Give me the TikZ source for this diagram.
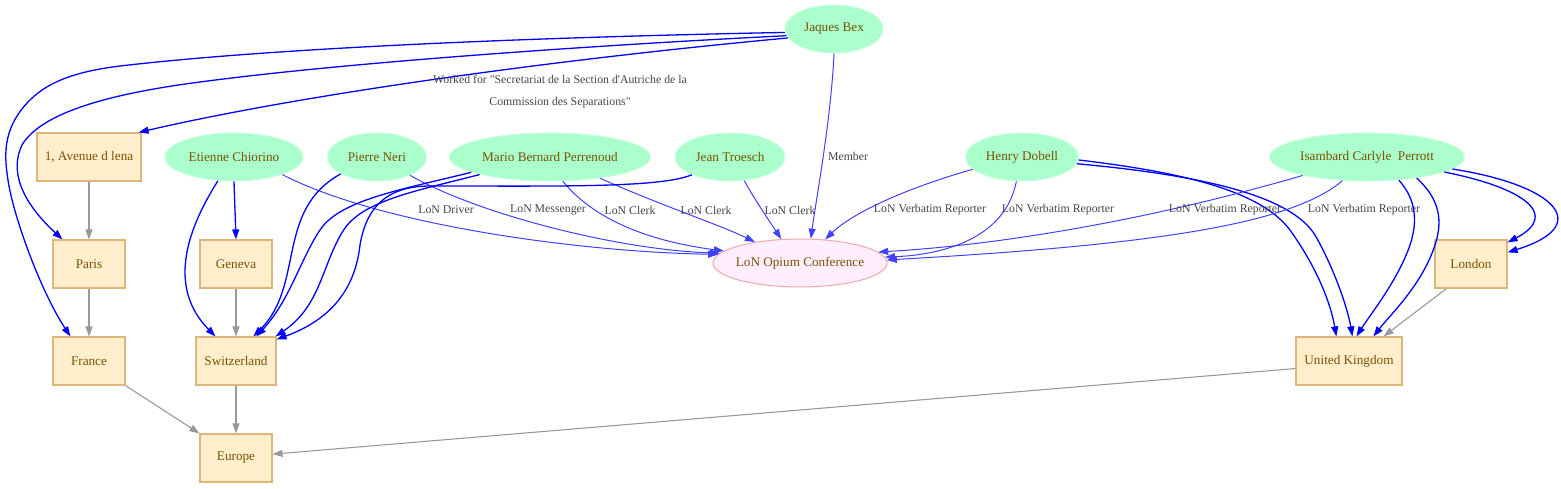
\documentclass[tikz,border=0pt]{standalone}
\usepackage{fontspec}
\setmainfont{Liberation Serif}
\usetikzlibrary{arrows.meta,shapes.geometric}
\definecolor{persfill}{HTML}{AAFFCC}
\definecolor{persline}{HTML}{C8FFDC}
\definecolor{plcfill}{HTML}{FFEECC}
\definecolor{plcline}{HTML}{E0B57A}
\definecolor{evtfill}{HTML}{FFEEFF}
\definecolor{evtline}{HTML}{EEA8A8}
\definecolor{ntext}{HTML}{7A5200}
\definecolor{ltext}{HTML}{444444}
\definecolor{strongblue}{HTML}{0000FF}
\definecolor{weakblue}{HTML}{4040FF}
\definecolor{geogray}{HTML}{999999}
\tikzset{
  pers/.style={ellipse,fill=persfill,draw=persline,line width=1pt,inner sep=0pt,minimum height=48pt,text=ntext,font=\fontsize{13.2}{15}\selectfont},
  plc/.style={rectangle,fill=plcfill,draw=plcline,line width=1.2pt,inner sep=0pt,minimum height=48pt,text=ntext,font=\fontsize{13.2}{15}\selectfont},
  evt/.style={ellipse,fill=evtfill,draw=evtline,line width=1pt,inner ysep=0pt,inner xsep=-14pt,minimum height=48pt,minimum width=174pt,text=ntext,font=\fontsize{13.2}{15}\selectfont},
  strongedge/.style={draw=strongblue,line width=1.3pt,-{Triangle[length=10pt,width=7pt]}},
  weakedge/.style={draw=weakblue,line width=1pt,-{Triangle[length=10pt,width=7pt]}},
  geoedge/.style={draw=geogray,line width=1.1pt,-{Triangle[length=10pt,width=7pt]}},
  lab/.style={text=ltext,inner sep=1pt,font=\fontsize{11.8}{14}\selectfont},
}
\begin{document}
\begin{tikzpicture}[x=1pt,y=-1pt]
\useasboundingbox (0,0) rectangle (1561,488);
% persons
\node[pers,minimum width=98pt] (jb) at (834,29) {Jaques Bex};
\node[pers,minimum width=138pt] (et) at (234,157) {Etienne Chiorino};
\node[pers,minimum width=99pt] (pn) at (377,157) {Pierre Neri};
\node[pers,minimum width=201pt] (mb) at (550,157) {Mario Bernard Perrenoud};
\node[pers,minimum width=110pt] (jt) at (730,157) {Jean Troesch};
\node[pers,minimum width=113pt] (hd) at (1022,157) {Henry Dobell};
\node[pers,minimum width=195pt] (ip) at (1367,157) {Isambard Carlyle\ \ Perrott};
% event
\node[evt] (op) at (800,263) {LoN Opium Conference};
% places
\node[plc,minimum width=104pt] (av) at (89,157) {1, Avenue d lena};
\node[plc,minimum width=72pt] (pa) at (89,264) {Paris};
\node[plc,minimum width=72pt] (ge) at (236,264) {Geneva};
\node[plc,minimum width=72pt] (lo) at (1471,264) {London};
\node[plc,minimum width=72pt] (fr) at (89,361) {France};
\node[plc,minimum width=80pt] (sw) at (236,361) {Switzerland};
\node[plc,minimum width=106pt] (uk) at (1349,361) {United Kingdom};
\node[plc,minimum width=72pt] (eu) at (236,458) {Europe};
% geography
\draw[geoedge] (av.south) -- (pa.north);
\draw[geoedge] (pa.south) -- (fr.north);
\draw[geoedge] (fr.south east) -- (eu.north west);
\draw[geoedge] (ge.south) -- (sw.north);
\draw[geoedge] (sw.south) -- (eu.north);
\draw[geoedge] (uk.188) -- (eu.6);
\draw[geoedge] ([xshift=12pt]lo.south west) -- ([xshift=-19pt]uk.north east);
% Jaques Bex
\draw[strongedge] (jb.184) .. controls (600,36) and (300,45) .. (120,66)
  .. controls (80,71) and (50,80) .. (30,100)
  .. controls (5,125) and (3,150) .. (8,180)
  .. controls (13,215) and (40,290) .. ([xshift=18pt]fr.north west);
\draw[strongedge] (jb.188) .. controls (600,45) and (350,62) .. (200,82)
  .. controls (100,95) and (40,115) .. (22,145)
  .. controls (10,170) and (20,200) .. ([xshift=10pt]pa.north west);
\draw[strongedge] (jb.191) .. controls (550,60) and (300,95) .. ([xshift=-3pt]av.north east);
\node[lab,align=center,font=\fontsize{11.8}{22}\selectfont] (lwork) at (560,92) {Worked for \textquotedbl Secretariat de la Section d\textquotesingle Autriche de la\\Commission des Separations\textquotedbl};
\draw[weakedge] (jb.south) .. controls (831,120) and (816,200) .. (op.66);
\node[lab] (lmember) at (848,156) {Member};
% Etienne
\draw[strongedge] (et.south) -- (ge.north);
\draw[strongedge] (et.236) .. controls (190,225) and (165,285) .. ([xshift=20pt]sw.north west);
\draw[weakedge] (et.-20) .. controls (380,225) and (580,252) .. (op.174);
\node[lab] (ldriver) at (446,210) {LoN Driver};
% Pierre
\draw[strongedge] (pn.205) .. controls (275,210) and (305,285) .. ([xshift=58pt]sw.north west);
\draw[weakedge] (pn.-29) .. controls (480,215) and (620,250) .. (op.173);
\node[lab] (lmess) at (548,210) {LoN Messenger};
% Mario
\draw[strongedge] (mb.191) .. controls (400,190) and (340,200) .. (320,230)
  .. controls (300,260) and (290,300) .. ([xshift=61pt]sw.north west);
\draw[strongedge] (mb.194) .. controls (420,190) and (365,200) .. (345,228)
  .. controls (322,262) and (322,305) .. ([xshift=-1pt]sw.north east);
\draw[weakedge] (mb.-62) .. controls (590,215) and (640,240) .. (op.171);
\node[lab] (lclerka) at (630,210) {LoN Clerk};
\draw[weakedge] (mb.-23) .. controls (660,205) and (720,225) .. (op.155);
\node[lab] (lclerkb) at (706,210) {LoN Clerk};
% Jean
\draw[strongedge] (jt.205) .. controls (660,188) and (560,186) .. (430,186)
  .. controls (380,186) and (365,215) .. (360,245)
  .. controls (355,290) and (330,320) .. ([yshift=-3pt]sw.north east);
\draw[weakedge] (jt.-59) .. controls (755,200) and (770,222) .. (op.128);
\node[lab] (lclerkc) at (790,210) {LoN Clerk};
% Henry
\draw[weakedge] (hd.194) .. controls (900,190) and (850,215) .. (op.43);
\node[lab] (lvra) at (930,210) {LoN Verbatim Reporter};
\draw[weakedge] (hd.257) .. controls (1005,240) and (940,255) .. (op.4);
\node[lab] (lvrb) at (1058,210) {LoN Verbatim Reporter};
\draw[strongedge] (hd.-3) .. controls (1180,172) and (1260,190) .. (1290,230)
  .. controls (1315,265) and (1330,300) .. ([xshift=41pt]uk.north west);
\draw[strongedge] (hd.-7) .. controls (1200,175) and (1290,195) .. (1315,235)
  .. controls (1335,270) and (1348,310) .. ([xshift=57pt]uk.north west);
% Isambard
\draw[weakedge] (ip.196) .. controls (1150,220) and (1000,245) .. (op.8);
\node[lab] (lvrc) at (1225,210) {LoN Verbatim Reporter};
\draw[weakedge] (ip.224) .. controls (1290,225) and (1150,245) .. (op.2);
\node[lab] (lvrd) at (1364,210) {LoN Verbatim Reporter};
\draw[strongedge] (ip.-36) .. controls (1412,195) and (1420,215) .. (1410,245)
  .. controls (1398,280) and (1370,315) .. ([xshift=61pt]uk.north west);
\draw[strongedge] (ip.-23) .. controls (1435,195) and (1445,215) .. (1435,245)
  .. controls (1422,285) and (1390,315) .. ([xshift=78pt]uk.north west);
\draw[strongedge] (ip.-11) .. controls (1525,188) and (1560,215) .. ([yshift=-3pt]lo.north east);
\draw[strongedge] (ip.-8) .. controls (1555,185) and (1595,225) .. ([yshift=-13pt]lo.north east);
\end{tikzpicture}
\end{document}
